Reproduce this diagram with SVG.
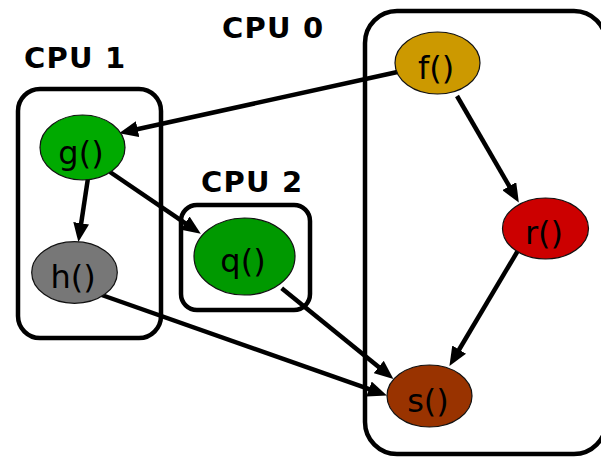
<svg xmlns="http://www.w3.org/2000/svg" width="601" height="457" viewBox="0 0 601 457">
<style>
.box{fill:none;stroke:#000;stroke-width:4.5}
.lbl{font-family:"DejaVu Sans",Verdana,sans-serif;font-weight:bold;font-size:29px;letter-spacing:1.2px;fill:#000}
.edge{stroke:#000;stroke-width:4.5;fill:none;marker-end:url(#ah)}
.node ellipse{stroke:#111;stroke-width:1.2}
.node text{font-family:"DejaVu Sans",Verdana,sans-serif;font-size:32px;text-anchor:middle;fill:#000}
</style>
<defs>
<marker id="ah" markerUnits="userSpaceOnUse" markerWidth="19" markerHeight="16" refX="4" refY="8" orient="auto">
<path d="M0,0 L19,8 L0,16 z" fill="#000"/>
</marker>
</defs>
<rect width="601" height="457" fill="#fff"/>
<g id="cpu0">
<rect class="box" x="365" y="11" width="241" height="443" rx="32"/>
<text class="lbl" x="222" y="38">CPU 0</text>
</g>
<g id="cpu1">
<rect class="box" x="18" y="89" width="143" height="249" rx="22"/>
<text class="lbl" x="24" y="68">CPU 1</text>
</g>
<g id="cpu2">
<rect class="box" x="181" y="205" width="129" height="105" rx="16"/>
<text class="lbl" x="201" y="192">CPU 2</text>
</g>
<g id="edges">
<line class="edge" x1="402" y1="71" x2="133.7" y2="130"/>
<line class="edge" x1="457" y1="96" x2="511.3" y2="189.6"/>
<line class="edge" x1="88" y1="178" x2="80.6" y2="227.2"/>
<line class="edge" x1="110" y1="172" x2="188.4" y2="225.4"/>
<line class="edge" x1="101.7" y1="295" x2="372.8" y2="390.4"/>
<line class="edge" x1="281.7" y1="288.3" x2="381.8" y2="369.5"/>
<line class="edge" x1="518.3" y1="250" x2="457.1" y2="353"/>
</g>
<g id="f" class="node"><ellipse cx="437.5" cy="63" rx="42.5" ry="31" fill="#CC9900"/><text x="436" y="79">f()</text></g>
<g id="g" class="node"><ellipse cx="82.5" cy="147.5" rx="42.5" ry="32.5" fill="#00AA00"/><text x="81" y="164">g()</text></g>
<g id="h" class="node"><ellipse cx="74.5" cy="272.5" rx="42.8" ry="30.8" fill="#777777"/><text x="73" y="288">h()</text></g>
<g id="q" class="node"><ellipse cx="244.5" cy="256.5" rx="50.5" ry="38.5" fill="#009900"/><text x="243" y="272">q()</text></g>
<g id="r" class="node"><ellipse cx="545.5" cy="228.5" rx="43" ry="30.5" fill="#CC0000"/><text x="544" y="244">r()</text></g>
<g id="s" class="node"><ellipse cx="429.5" cy="396" rx="42.5" ry="31" fill="#993300"/><text x="428" y="412">s()</text></g>
</svg>
